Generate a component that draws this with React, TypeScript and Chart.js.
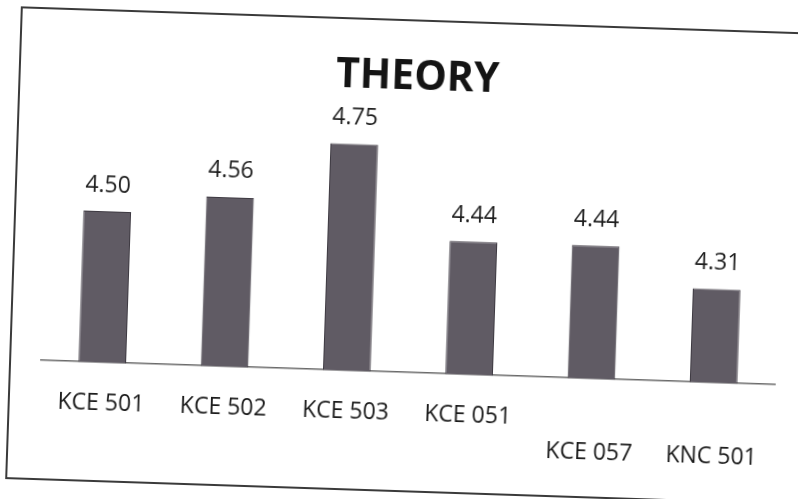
import React, { useEffect, useRef } from "react";
import { Chart, registerables } from "chart.js";

Chart.register(...registerables);

const categories = ["KCE 501", "KCE 502", "KCE 503", "KCE 051", "KCE 057", "KNC 501"];
const labelRow = [0, 0, 0, 0, 1, 1];
const values = [4.5, 4.56, 4.75, 4.44, 4.44, 4.31];
const titleText = "THEORY";

const valueLabels = {
  id: "valueLabels",
  afterDatasetsDraw(chart: any) {
    const ctx = chart.ctx;
    const meta = chart.getDatasetMeta(0);
    ctx.save();
    ctx.font = "23px 'Open Sans'";
    ctx.fillStyle = "#1e1e1e";
    ctx.textAlign = "center";
    ctx.textBaseline = "middle";
    meta.data.forEach((el: any, i: number) => {
      ctx.fillText(values[i].toFixed(2), el.x, el.y - 26);
    });
    ctx.restore();
  },
};

export default function App() {
  const ref = useRef<HTMLCanvasElement>(null);
  useEffect(() => {
    if (!ref.current) return;
    const labels = categories.map((c, i) => (labelRow[i] ? ["", c] : c));
    const chart = new Chart(ref.current, {
      type: "bar",
      data: {
        labels,
        datasets: [
          {
            data: values,
            backgroundColor: "#605b64",
            borderColor: "#3e3a42",
            borderWidth: 1,
            barPercentage: 0.39,
            categoryPercentage: 1,
          },
        ],
      },
      options: {
        responsive: false,
        animation: false,
        devicePixelRatio: 1,
        layout: { padding: { top: 23, left: 30, right: 37, bottom: 2 } },
        plugins: {
          legend: { display: false },
          tooltip: { enabled: false },
          title: {
            display: true,
            text: titleText,
            color: "#141414",
            font: { family: "'Open Sans'", size: 41, weight: "bold", lineHeight: 1.2 },
            padding: { top: 9, bottom: 1 },
          },
        },
        scales: {
          x: {
            grid: { display: false, drawTicks: false },
            border: { display: true, color: "#6a6a6a", width: 1.5 },
            ticks: {
              color: "#1a1a1a",
              padding: 25,
              maxRotation: 0,
              autoSkip: false,
              font: { family: "'Open Sans'", size: 23, lineHeight: 1.43 },
            },
          },
          y: { display: false, min: 4, max: 4.89 },
        },
      },
      plugins: [valueLabels],
    });
    return () => chart.destroy();
  }, []);

  return (
    <div
      style={{
        position: "fixed",
        left: 0,
        top: 0,
        width: 798,
        height: 499,
        background: "#ffffff",
        transform: "rotate(1.9deg)",
        transformOrigin: "399px 249.5px",
      }}
    >
      <div
        style={{
          position: "absolute",
          left: 13,
          top: 18.6,
          width: 801,
          height: 469,
          border: "2px solid #3a3a3a",
          background: "#ffffff",
        }}
      >
        <canvas ref={ref} width={801} height={469} style={{ display: "block" }} />
      </div>
    </div>
  );
}
